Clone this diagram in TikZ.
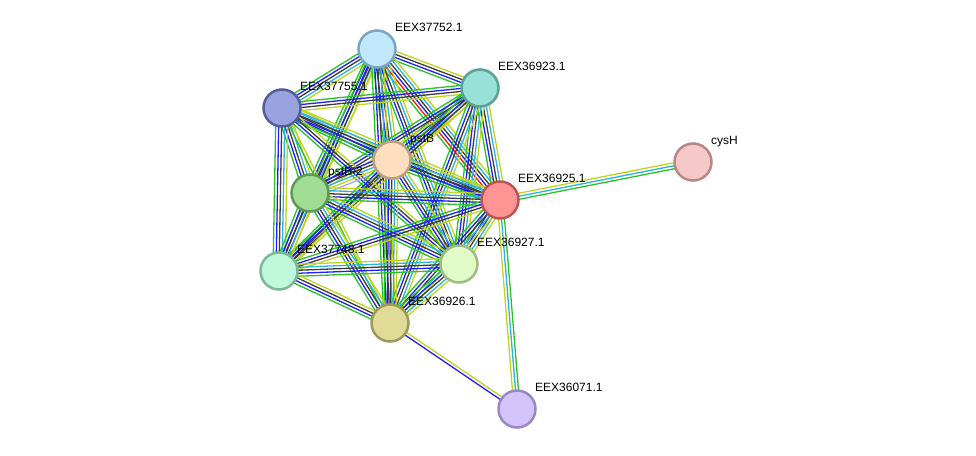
\documentclass[tikz,border=0pt]{standalone}
\usepackage{fontspec}
\setmainfont{Liberation Sans}
\usetikzlibrary{calc,backgrounds}

\definecolor{cnbh}{RGB}{40,195,40}
\definecolor{cfus}{RGB}{255,20,20}
\definecolor{ccoo}{RGB}{30,30,255}
\definecolor{ccoe}{RGB}{60,60,60}
\definecolor{cdbs}{RGB}{40,180,220}
\definecolor{ctxt}{RGB}{190,212,30}
\definecolor{chom}{RGB}{165,165,255}

% one bundle of evidence lines between two proteins
\newcommand{\linkset}[3]{%
  \foreach \c [count=\i] in {#3} {\xdef\nlink{\i}}%
  \foreach \c [count=\i] in {#3} {
    \pgfmathsetmacro\off{(\i-(\nlink+1)/2)*3.0}
    \draw[\c] ($(#1)!\off pt!90:(#2)$) -- ($(#2)!\off pt!-90:(#1)$);
  }%
}

\begin{document}
\begin{tikzpicture}[x=1pt, y=-1pt,
    prot/.style={circle, minimum size=37pt, inner sep=0pt, line width=2.5pt},
    lbl/.style={anchor=base west, inner sep=0pt, font=\fontsize{12}{14}\selectfont},
    nbh/.style={draw=cnbh, line width=1.3pt},
    fus/.style={draw=cfus, line width=1.3pt},
    coo/.style={draw=ccoo, line width=1.3pt},
    coe/.style={draw=ccoe, line width=1.3pt},
    dbs/.style={draw=cdbs, line width=1.3pt},
    txt/.style={draw=ctxt, line width=1.3pt},
    hom/.style={draw=chom, line width=1.3pt}]
    \useasboundingbox (0,0) rectangle (976,455);

    % proteins
    \node[prot, fill={rgb,255:red,192;green,232;blue,250}, draw={rgb,255:red,122;green,166;blue,196}] (n37752) at (377,49) {};
    \node[prot, fill={rgb,255:red,152;green,224;blue,216}, draw={rgb,255:red,88;green,160;blue,152}] (n36923) at (480,88) {};
    \node[prot, fill={rgb,255:red,152;green,163;blue,224}, draw={rgb,255:red,84;green,94;blue,154}] (n37755) at (282,108) {};
    \node[prot, fill={rgb,255:red,253;green,222;blue,192}, draw={rgb,255:red,186;green,160;blue,128}] (pstB) at (392,160) {};
    \node[prot, fill={rgb,255:red,160;green,220;blue,148}, draw={rgb,255:red,94;green,154;blue,84}] (pstB2) at (310,193) {};
    \node[prot, fill={rgb,255:red,255;green,148;blue,148}, draw={rgb,255:red,190;green,84;blue,84}] (n36925) at (500,200) {};
    \node[prot, fill={rgb,255:red,247;green,200;blue,200}, draw={rgb,255:red,184;green,136;blue,136}] (cysH) at (693,162) {};
    \node[prot, fill={rgb,255:red,192;green,248;blue,220}, draw={rgb,255:red,126;green,184;blue,154}] (n37748) at (279,271) {};
    \node[prot, fill={rgb,255:red,224;green,252;blue,200}, draw={rgb,255:red,160;green,188;blue,132}] (n36927) at (459,264) {};
    \node[prot, fill={rgb,255:red,224;green,220;blue,152}, draw={rgb,255:red,158;green,154;blue,88}] (n36926) at (390,323) {};
    \node[prot, fill={rgb,255:red,212;green,196;blue,252}, draw={rgb,255:red,154;green,136;blue,196}] (n36071) at (517,409) {};

    % names
    \node[lbl] (l37752) at ([shift={(18,-17.5)}]n37752.center) {EEX37752.1};
    \node[lbl] (l36923) at ([shift={(18,-17.5)}]n36923.center) {EEX36923.1};
    \node[lbl] (l37755) at ([shift={(18,-17.5)}]n37755.center) {EEX37755.1};
    \node[lbl] (lpstB) at ([shift={(18,-17.5)}]pstB.center) {pstB};
    \node[lbl] (lpstB2) at ([shift={(18,-17.5)}]pstB2.center) {pstB-2};
    \node[lbl] (l36925) at ([shift={(18,-17.5)}]n36925.center) {EEX36925.1};
    \node[lbl] (lcysH) at ([shift={(18,-17.5)}]cysH.center) {cysH};
    \node[lbl] (l37748) at ([shift={(18,-17.5)}]n37748.center) {EEX37748.1};
    \node[lbl] (l36927) at ([shift={(18,-17.5)}]n36927.center) {EEX36927.1};
    \node[lbl] (l36926) at ([shift={(18,-17.5)}]n36926.center) {EEX36926.1};
    \node[lbl] (l36071) at ([shift={(18,-17.5)}]n36071.center) {EEX36071.1};

    % evidence lines
    \begin{pgfonlayer}{background}
    \linkset{n37752}{n36923}{nbh,coo,coe,txt}
    \linkset{n37752}{n37755}{nbh,coo,coe,dbs,txt}
    \linkset{n37752}{pstB}{nbh,coo,coe,dbs,txt}
    \linkset{n37752}{pstB2}{nbh,coo,coe,dbs,txt}
    \linkset{n37752}{n36925}{nbh,fus,coo,coe,dbs,txt}
    \linkset{n37752}{n37748}{nbh,coo,coe,txt}
    \linkset{n37752}{n36927}{nbh,coo,coe,dbs,txt}
    \linkset{n37752}{n36926}{nbh,coo,coe,dbs,txt}
    \linkset{n36923}{n37755}{nbh,coo,coe,txt}
    \linkset{n36923}{pstB}{nbh,coo,coe,dbs,txt}
    \linkset{n36923}{pstB2}{nbh,coo,coe,txt}
    \linkset{n36923}{n36925}{nbh,coo,coe,dbs,txt}
    \linkset{n36923}{n37748}{nbh,coo,coe,txt}
    \linkset{n36923}{n36927}{nbh,coo,coe,dbs,txt}
    \linkset{n36923}{n36926}{nbh,coo,coe,dbs,txt}
    \linkset{n37755}{pstB}{nbh,coo,coe,dbs,txt}
    \linkset{n37755}{pstB2}{nbh,coo,coe,dbs,txt}
    \linkset{n37755}{n36925}{nbh,coo,coe,dbs,txt}
    \linkset{n37755}{n37748}{nbh,coo,coe,dbs,txt}
    \linkset{n37755}{n36927}{nbh,coo,coe,txt}
    \linkset{n37755}{n36926}{nbh,txt}
    \linkset{pstB}{pstB2}{coo,coe,dbs,txt,hom}
    \linkset{pstB}{n36925}{nbh,coo,coe,dbs,txt}
    \linkset{pstB}{n37748}{nbh,coo,coe,txt}
    \linkset{pstB}{n36927}{nbh,coo,coe,dbs,txt}
    \linkset{pstB}{n36926}{nbh,coo,coe,dbs,txt}
    \linkset{pstB2}{n36925}{nbh,coo,coe,dbs,txt}
    \linkset{pstB2}{n37748}{nbh,coo,coe,dbs,txt}
    \linkset{pstB2}{n36927}{nbh,coo,coe,dbs,txt}
    \linkset{pstB2}{n36926}{nbh,coo,coe,dbs,txt}
    \linkset{n36925}{n37748}{nbh,coo,coe,txt}
    \linkset{n36925}{n36927}{nbh,coo,coe,dbs,txt}
    \linkset{n36925}{n36926}{nbh,coo,coe,dbs,txt}
    \linkset{n37748}{n36927}{nbh,coo,coe,dbs,txt}
    \linkset{n37748}{n36926}{nbh,coo,coe,txt}
    \linkset{n36927}{n36926}{nbh,coo,coe,dbs,txt}
    \linkset{n36925}{cysH}{nbh,dbs,txt}
    \linkset{n36925}{n36071}{txt,dbs,nbh}
    \linkset{n36926}{n36071}{coo,txt}
    \end{pgfonlayer}

\end{tikzpicture}
\end{document}
